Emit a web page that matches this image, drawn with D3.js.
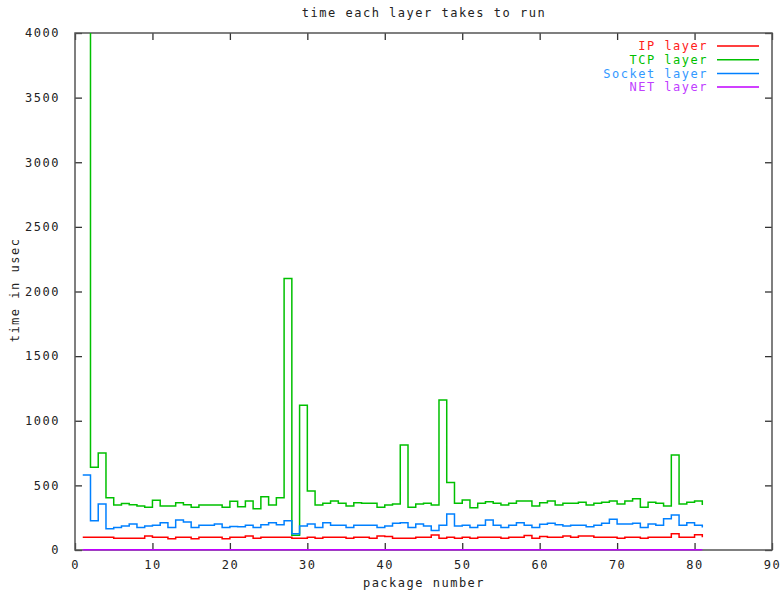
<!DOCTYPE html>
<html>
<head>
<meta charset="utf-8">
<script src="https://cdn.jsdelivr.net/npm/d3@7"></script>
<style>
  body { margin: 0; background: #fff; }
  text { font-family: "DejaVu Sans Mono", monospace; font-size: 12px; letter-spacing: 1.5px; }
</style>
</head>
<body>
<div id="chart"></div>
<script>
// package numbers 1..81
var paquets = d3.range(1, 82);

// times in usec (TCP x=1 is off the top of the chart)
var ipLayer = [98,98,98,98,90,90,90,90,108,98,98,88,98,98,88,98,98,98,88,98,
  98,108,90,98,98,98,98,90,90,98,90,98,98,98,90,98,98,90,108,104,
  90,90,90,98,98,116,90,98,90,98,90,98,98,98,90,98,98,113,90,104,
  98,98,108,98,108,108,98,98,98,90,98,98,90,98,98,98,125,98,98,118,98];
var tcpLayer = [5200,640,750,405,348,360,350,340,330,385,340,340,365,350,330,348,348,348,330,378,
  335,379,320,412,348,405,2100,115,1120,456,348,361,379,361,340,366,361,361,330,348,
  356,812,330,356,361,348,1160,523,361,387,327,361,374,361,348,361,379,379,340,366,
  379,348,361,361,369,348,361,369,379,356,379,397,330,369,361,340,735,356,369,379,348];
var socketLayer = [580,227,356,165,175,186,201,175,186,191,211,175,232,217,175,191,191,201,175,182,
  180,191,175,196,211,196,227,125,186,201,175,211,191,191,175,191,191,191,175,185,
  206,211,175,201,186,150,191,278,186,191,175,191,232,191,175,191,211,191,175,200,
  206,196,186,191,191,180,191,206,237,201,201,206,175,201,191,242,271,191,211,191,175];
var netLayer = [2,2,2,2,2,2,2,2,2,2,2,2,2,2,2,2,2,2,2,2,
  2,2,2,2,2,2,2,2,2,2,2,2,2,2,2,2,2,2,2,2,
  2,2,2,2,2,2,2,2,2,2,2,2,2,2,2,2,2,2,2,2,
  2,2,2,2,2,2,2,2,2,2,2,2,2,2,2,2,2,2,2,2,2];

var couches = [
  { nom: "IP layer", valeurs: ipLayer, couleur: "#ff0000", texte: "#ff2020" },
  { nom: "TCP layer", valeurs: tcpLayer, couleur: "#00c000", texte: "#00c000" },
  { nom: "Socket layer", valeurs: socketLayer, couleur: "#0080ff", texte: "#3399ff" },
  { nom: "NET layer", valeurs: netLayer, couleur: "#c000ff", texte: "#c040ff" }
];

var xTicks = d3.range(0, 91, 10);
var yTicks = d3.range(0, 4001, 500);

//----------------------------------------------------------------
// svg et zone du graphe
var largeur = 784, hauteur = 596;
var marge = { gauche: 75, droite: 12, haut: 33, bas: 46 };
var svg = d3.select("#chart").append("svg")
  .attr("width", largeur)
  .attr("height", hauteur);

var x = d3.scaleLinear().domain([0, 90]).range([marge.gauche, largeur - marge.droite]);
var y = d3.scaleLinear().domain([0, 4000]).range([hauteur - marge.bas, marge.haut]);

svg.append("clipPath").attr("id", "zone")
  .append("rect")
  .attr("x", x(0)).attr("y", y(4000))
  .attr("width", x(90) - x(0)).attr("height", y(0) - y(4000) + 2);

//----------------------------------------------------------------
// axes (ticks vers l'intérieur, des deux côtés)
var tick = 7;
svg.append("g")
  .attr("transform", "translate(0," + y(0) + ")")
  .call(d3.axisBottom(x).tickValues(xTicks).tickSize(-tick).tickPadding(10))
  .call(function(g){ g.select(".domain").remove(); });
svg.append("g")
  .attr("transform", "translate(0," + y(4000) + ")")
  .call(d3.axisTop(x).tickValues(xTicks).tickSize(-tick).tickFormat(""))
  .call(function(g){ g.select(".domain").remove(); });
svg.append("g")
  .attr("transform", "translate(" + x(0) + ",0)")
  .call(d3.axisLeft(y).tickValues(yTicks).tickSize(-tick).tickPadding(15).tickFormat(d3.format("d")))
  .call(function(g){ g.select(".domain").remove(); });
svg.append("g")
  .attr("transform", "translate(" + x(90) + ",0)")
  .call(d3.axisRight(y).tickValues(yTicks).tickSize(-tick).tickFormat(""))
  .call(function(g){ g.select(".domain").remove(); });

svg.selectAll(".tick line").attr("stroke", "#333").attr("stroke-width", 1.3);
svg.selectAll(".tick text")
  .attr("fill", "#222")
  .style("font-family", "'DejaVu Sans Mono', monospace")
  .style("font-size", "12px");

// cadre
svg.append("rect")
  .attr("x", x(0)).attr("y", y(4000))
  .attr("width", x(90) - x(0)).attr("height", y(0) - y(4000))
  .attr("fill", "none")
  .attr("stroke", "#555")
  .attr("stroke-width", 1.5);

//----------------------------------------------------------------
// courbes en escalier
var ligne = d3.line()
  .curve(d3.curveStepAfter)
  .x(function(d, i){ return x(paquets[i]); })
  .y(function(d){ return y(d); });

svg.append("g").attr("clip-path", "url(#zone)")
  .selectAll("path")
  .data(couches)
  .enter()
  .append("path")
  .attr("fill", "none")
  .attr("stroke", function(d){ return d.couleur; })
  .attr("stroke-width", 1.5)
  .attr("d", function(d){ return ligne(d.valeurs); });

//----------------------------------------------------------------
// légende
var legende = svg.selectAll(".legende")
  .data(couches)
  .enter()
  .append("g")
  .attr("class", "legende")
  .attr("transform", function(d, i){ return "translate(0," + (46 + i * 13.7) + ")"; });
legende.append("text")
  .attr("x", 708)
  .attr("dy", "0.35em")
  .attr("text-anchor", "end")
  .attr("fill", function(d){ return d.texte; })
  .text(function(d){ return d.nom; });
legende.append("line")
  .attr("x1", 717).attr("x2", 759)
  .attr("stroke", function(d){ return d.couleur; })
  .attr("stroke-width", 1.5);

//----------------------------------------------------------------
// titres
svg.append("text")
  .attr("x", 424).attr("y", 17)
  .attr("text-anchor", "middle")
  .attr("fill", "#222")
  .text("time each layer takes to run");
svg.append("text")
  .attr("x", 424).attr("y", 587)
  .attr("text-anchor", "middle")
  .attr("fill", "#222")
  .text("package number");
svg.append("text")
  .attr("transform", "translate(19,290) rotate(-90)")
  .attr("text-anchor", "middle")
  .attr("fill", "#222")
  .text("time in usec");
</script>
</body>
</html>
